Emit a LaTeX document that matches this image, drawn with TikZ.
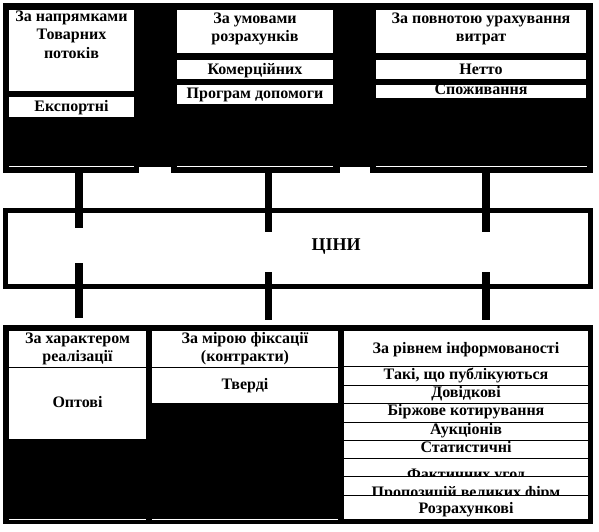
\documentclass[tikz,border=0pt]{standalone}
\usepackage{fontspec}
\setmainfont{Liberation Serif}
\begin{document}
\begin{tikzpicture}[x=1pt, y=-1pt,
		blk/.style={fill=black, inner sep=0, outer sep=0, anchor=north west},
		wbox/.style={fill=white, inner sep=0, outer sep=0, anchor=north west},
		txt/.style={font=\fontsize{16}{18.4}\selectfont\bfseries, inner sep=0, align=center, anchor=base},
		bar/.style={line width=7.5pt},
		wline/.style={white, line width=1pt},
		rowline/.style={black, line width=0.8pt}]
				\useasboundingbox (0,0) rectangle (599,531);
				% upper block
				\fill (3,3) rectangle (593,167);
				\node[blk, minimum width=136pt, minimum height=170pt] (top1) at (3,3) {};
				\node[blk, minimum width=169pt, minimum height=170pt] (top2) at (171,3) {};
				\node[blk, minimum width=223pt, minimum height=170pt] (top3) at (370,3) {};
				\draw[wline] (9,166) -- (134,166) (177,166) -- (333,166) (376,166) -- (587,166);
				\node[wbox, minimum width=125pt, minimum height=81pt] (napr) at (9,10) {};
				\node[wbox, minimum width=125pt, minimum height=20pt] (eksp) at (9,97) {};
				\node[wbox, minimum width=156pt, minimum height=43pt] (umov) at (177,10) {};
				\node[wbox, minimum width=156pt, minimum height=19pt] (komer) at (177,60) {};
				\node[wbox, minimum width=156pt, minimum height=19pt] (progr) at (177,85) {};
				\node[wbox, minimum width=210pt, minimum height=43pt] (povn) at (376,10) {};
				\node[wbox, minimum width=210pt, minimum height=19pt] (netto) at (376,60) {};
				\node[wbox, minimum width=210pt, minimum height=13pt] (spoz) at (376,85) {};
				% multi-line texts sit on the baseline of their last line
				\path
				(71.5,58.3) node[txt] (naprT) {За напрямками\\Товарних\\потоків}
				(71.5,111) node[txt] (ekspT) {Експортні}
				(255,41.7) node[txt] (umovT) {За умовами\\розрахунків}
				(255,74) node[txt] (komerT) {Комерційних}
				(255,98.3) node[txt] (progrT) {Програм допомоги}
				(481,41.7) node[txt] (povnT) {За повнотою урахування\\витрат}
				(481,74) node[txt] (nettoT) {Нетто};
				\begin{scope}
					\clip (376,85) rectangle (586,98);
					\node[txt] (spozT) at (481,94) {Споживання};
				\end{scope}
				% centre box
				\node[draw, line width=5pt, inner sep=0, outer sep=0, anchor=north west,
					minimum width=585pt, minimum height=76pt] (cini) at (5.5,210.8) {};
				\node[txt, font=\fontsize{18}{20}\selectfont\bfseries] (ciniT) at (336,250) {ЦІНИ};
				\coordinate (a1) at (78.8,228);
				\coordinate (a2) at (268.5,232);
				\coordinate (a3) at (486,232);
				\draw[bar] (top1.south -| a1) -- (a1);
				\draw[bar] (top2.south -| a2) -- (a2);
				\draw[bar] (top3.south -| a3) -- (a3);
				\coordinate (c1) at (78.8,263);
				\coordinate (c2) at (268.5,272);
				\coordinate (c3) at (486,272);
				\coordinate (d1) at (78.8,318);
				\coordinate (d2) at (268.5,320);
				\coordinate (d3) at (486,320);
				\draw[bar] (c1) -- (d1);
				\draw[bar] (c2) -- (d2);
				\draw[bar] (c3) -- (d3);
				% lower block
				\node[blk, minimum width=590pt, minimum height=199pt] (bot) at (3,325) {};
				\node[wbox, minimum width=137pt, minimum height=108pt] (harakt) at (9,331) {};
				\node[wbox, minimum width=186pt, minimum height=72pt] (fiks) at (152,331) {};
				\node[wbox, minimum width=244pt, minimum height=188pt] (inform) at (344,331) {};
				\draw[wline] (9,519) -- (146,519) (152,519) -- (338,519);
				\draw[rowline] (9,367) -- (146,367) (152,367) -- (338,367)
				(344,366.7) -- (588,366.7) (344,385.7) -- (588,385.7)
				(344,403.3) -- (588,403.3) (344,422.3) -- (588,422.3)
				(344,440.7) -- (588,440.7) (344,458.3) -- (588,458.3)
				(344,476.7) -- (588,476.7) (344,495) -- (588,495);
				\path
				(77.5,361.7) node[txt] (haraktT) {За характером\\реалізації}
				(77.5,407.3) node[txt] (optT) {Оптові}
				(245,361.7) node[txt] (fiksT) {За мірою фіксації\\(контракти)}
				(245,389.3) node[txt] (tverdT) {Тверді}
				(466,353.3) node[txt] (informT) {За рівнем інформованості}
				(466,379.3) node[txt] (publT) {Такі, що публікуються}
				(466,397.3) node[txt] (dovidT) {Довідкові}
				(466,415) node[txt] (birzhT) {Біржове котирування}
				(466,434.3) node[txt] (aukcT) {Аукціонів}
				(466,452.3) node[txt] (statT) {Статистичні}
				(466,513.3) node[txt] (rozrT) {Розрахункові};
				\begin{scope}
					\clip (344,458.7) rectangle (588,476.3);
					\node[txt] (faktT) at (466,479.5) {Фактичних угод};
				\end{scope}
				\begin{scope}
					\clip (344,477.1) rectangle (588,494.6);
					\node[txt] (proposT) at (466,497.7) {Пропозицій великих фірм};
				\end{scope}
			\end{tikzpicture}
\end{document}
